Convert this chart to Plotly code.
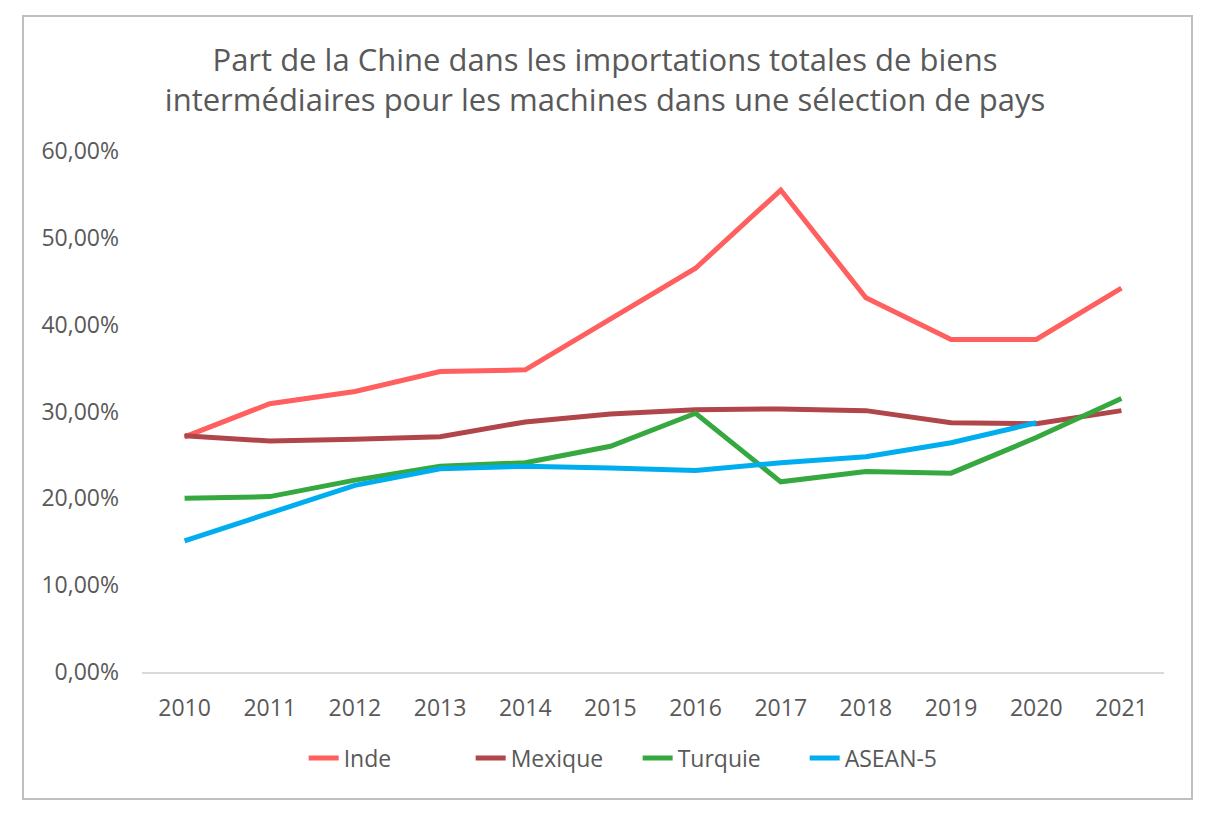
import plotly.graph_objects as go

years = ["2010", "2011", "2012", "2013", "2014", "2015", "2016", "2017", "2018", "2019", "2020", "2021"]
inde = [0.2707, 0.309, 0.323, 0.346, 0.348, 0.407, 0.465, 0.555, 0.431, 0.383, 0.383, 0.442]
mexique = [0.272, 0.266, 0.268, 0.271, 0.288, 0.297, 0.302, 0.303, 0.301, 0.287, 0.286, 0.301]
turquie = [0.200, 0.202, 0.221, 0.237, 0.241, 0.260, 0.298, 0.219, 0.231, 0.229, 0.270, 0.315]
asean5 = [0.151, 0.183, 0.215, 0.234, 0.237, 0.235, 0.232, 0.241, 0.248, 0.264, 0.287, None]

series = [
    ("Inde", inde, "#FF5F5F"),
    ("Mexique", mexique, "#B0464A"),
    ("Turquie", turquie, "#36A840"),
    ("ASEAN-5", asean5, "#00AEEF"),
]

fig = go.Figure()
for name, vals, col in series:
    fig.add_trace(go.Scatter(x=years, y=vals, name=name, mode="lines",
                             line=dict(color=col, width=5), connectgaps=False))

font_col = "#595959"
fig.update_layout(
    width=1210, height=816,
    paper_bgcolor="white", plot_bgcolor="white",
    separators=", ",
    margin=dict(l=142, r=46, t=151, b=144),
    font=dict(family="Open Sans", color=font_col, size=23),
    title=dict(text="Part de la Chine dans les importations totales de biens<br>intermédiaires pour les machines dans une sélection de pays",
               x=0.5, xanchor="center", y=1 - 71 / 816, yanchor="middle",
               font=dict(family="Open Sans", size=31, color=font_col)),
    xaxis=dict(type="category", range=[-0.5, len(years) - 0.5], showgrid=False,
               showline=True, linecolor="#d9d9d9", linewidth=2,
               ticks="", tickfont=dict(size=23, color=font_col), ticklabelstandoff=14,
               fixedrange=True),
    yaxis=dict(range=[0, 0.6], tickvals=[0, 0.1, 0.2, 0.3, 0.4, 0.5, 0.6], tickformat=".2%",
               showgrid=False, zeroline=False, showline=False, ticks="",
               tickfont=dict(size=23, color=font_col), ticklabelstandoff=22),
    legend=dict(orientation="h", x=0.485, xanchor="center", y=(672 - 758) / 521, yanchor="middle",
                font=dict(size=23, color=font_col), traceorder="normal",
                entrywidth=122, entrywidthmode="pixels"),
    shapes=[dict(type="rect", xref="paper", yref="paper",
                 x0=(23 - 142) / 1022, x1=(1192 - 142) / 1022,
                 y0=(672 - 799) / 521, y1=(672 - 16) / 521,
                 line=dict(color="#bfbfbf", width=2), layer="below")],
)
fig.write_html("out.html", config={"displayModeBar": False},
               post_script="document.body.style.margin='0';document.body.style.overflow='hidden';")
